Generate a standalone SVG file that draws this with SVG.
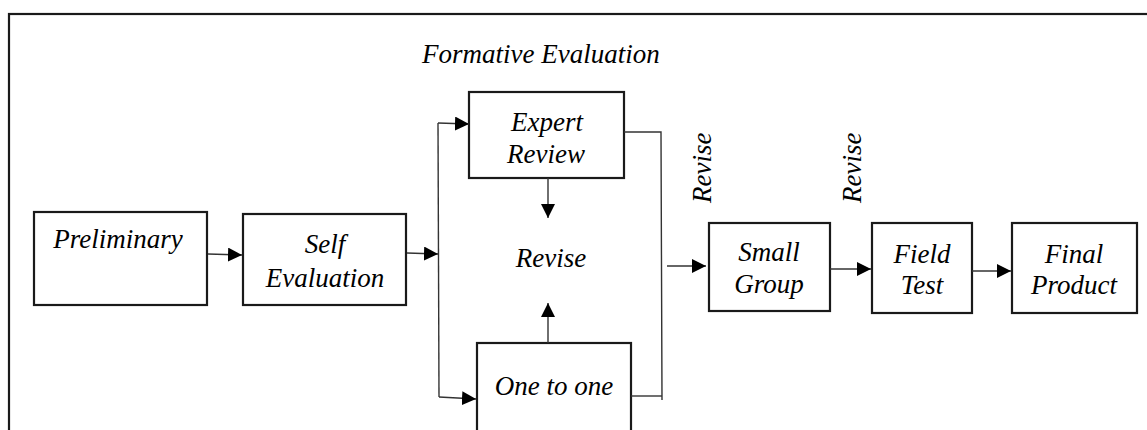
<svg xmlns="http://www.w3.org/2000/svg" width="1147" height="430" viewBox="0 0 1147 430">
<defs>
<marker id="ah" markerUnits="userSpaceOnUse" markerWidth="16" markerHeight="14" refX="14" refY="7" orient="auto">
<path d="M0,0 L14,7 L0,14 Z" fill="#000"/>
</marker>
</defs>
<rect x="9" y="14" width="1200" height="500" fill="none" stroke="#1a1a1a" stroke-width="2.2"/>
<g font-family="Liberation Serif" font-style="italic" font-size="27" fill="#000">
<text x="422" y="63">Formative Evaluation</text>
<g id="preliminary">
<rect x="34" y="212" width="173" height="93" fill="#fff" stroke="#1a1a1a" stroke-width="2.2"/>
<text x="118" y="248" text-anchor="middle">Preliminary</text>
</g>
<g id="self-evaluation">
<rect x="243" y="214" width="163" height="91" fill="#fff" stroke="#1a1a1a" stroke-width="2.2"/>
<text x="325" y="253" text-anchor="middle">Self</text>
<text x="325" y="287" text-anchor="middle">Evaluation</text>
</g>
<g id="expert-review">
<rect x="469" y="92" width="155" height="86" fill="#fff" stroke="#1a1a1a" stroke-width="2.2"/>
<text x="547" y="131" text-anchor="middle">Expert</text>
<text x="546" y="163" text-anchor="middle">Review</text>
</g>
<g id="revise">
<text x="551" y="267" text-anchor="middle">Revise</text>
</g>
<g id="one-to-one">
<rect x="477" y="343" width="154" height="90" fill="#fff" stroke="#1a1a1a" stroke-width="2.2"/>
<text x="554" y="395" text-anchor="middle">One to one</text>
</g>
<g id="revise-1">
<text transform="translate(711,203) rotate(-90)">Revise</text>
</g>
<g id="revise-2">
<text transform="translate(861,203) rotate(-90)">Revise</text>
</g>
<g id="small-group">
<rect x="709" y="223" width="121" height="88" fill="#fff" stroke="#1a1a1a" stroke-width="2.2"/>
<text x="769" y="261" text-anchor="middle">Small</text>
<text x="769" y="293" text-anchor="middle">Group</text>
</g>
<g id="field-test">
<rect x="872" y="223" width="100" height="90" fill="#fff" stroke="#1a1a1a" stroke-width="2.2"/>
<text x="922" y="263" text-anchor="middle">Field</text>
<text x="922" y="294" text-anchor="middle">Test</text>
</g>
<g id="final-product">
<rect x="1012" y="223" width="125" height="90" fill="#fff" stroke="#1a1a1a" stroke-width="2.2"/>
<text x="1074" y="263" text-anchor="middle">Final</text>
<text x="1074" y="294" text-anchor="middle">Product</text>
</g>
</g>
<g id="connectors" fill="none" stroke="#333" stroke-width="1.4">
<line x1="208" y1="254" x2="242" y2="255" marker-end="url(#ah)"/>
<line x1="407" y1="253" x2="438" y2="254" marker-end="url(#ah)"/>
<line x1="438" y1="123" x2="439" y2="397"/>
<line x1="438" y1="123" x2="469" y2="124" marker-end="url(#ah)"/>
<line x1="439" y1="397" x2="476" y2="399" marker-end="url(#ah)"/>
<line x1="548" y1="178" x2="548" y2="218" marker-end="url(#ah)"/>
<line x1="548" y1="343" x2="548" y2="303" marker-end="url(#ah)"/>
<polyline points="624,132 661,132 662,400"/>
<line x1="631" y1="396" x2="662" y2="396"/>
<line x1="667" y1="266" x2="706" y2="266" marker-end="url(#ah)"/>
<line x1="830" y1="269" x2="871" y2="269" marker-end="url(#ah)"/>
<line x1="972" y1="271" x2="1011" y2="271" marker-end="url(#ah)"/>
</g>
</svg>
